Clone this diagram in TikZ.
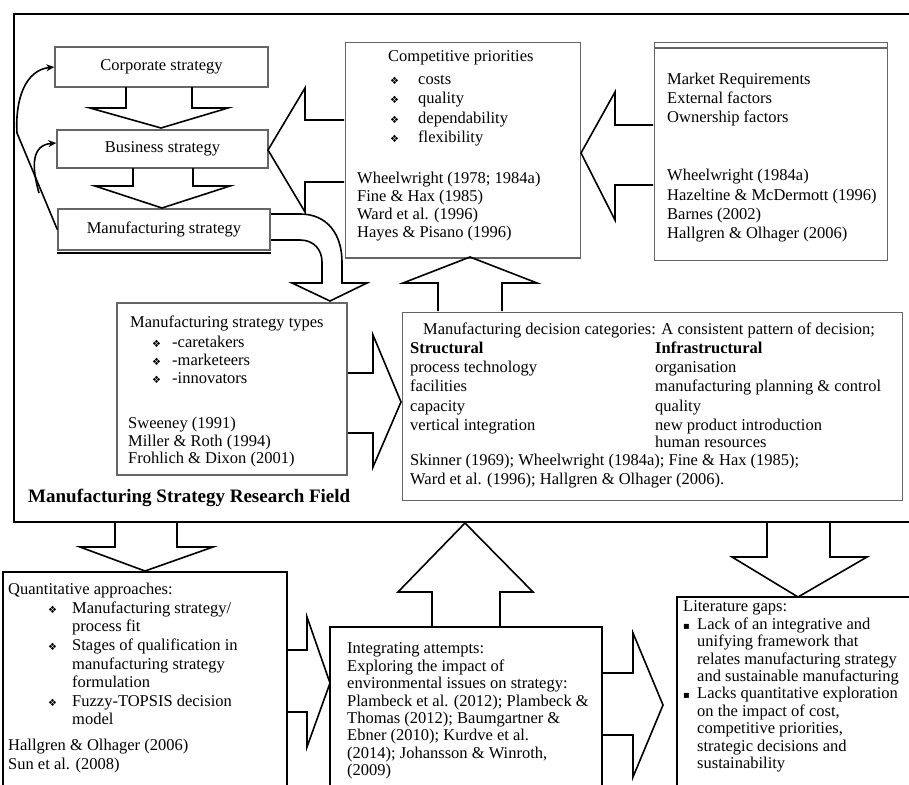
\documentclass[tikz,border=0pt]{standalone}
\usepackage{fontspec}
\setmainfont{Liberation Serif}
\newfontfamily\symf{DejaVu Sans}
\usetikzlibrary{arrows.meta,calc}
\newcommand\mybul[1][28pt]{\makebox[#1][l]{\symf\fontsize{10}{10}\selectfont ❖}}
\newcommand\sqbul[1][14pt]{\makebox[#1][l]{\symf\fontsize{10}{10}\selectfont ▪}}
\begin{document}
\begin{tikzpicture}[x=1pt,y=-1pt,
  txt/.style={inner sep=0pt, anchor=west, align=left, font=\fontsize{16.5}{18.8}\selectfont},
  gbox/.style={draw=black!60, line width=1.4pt, inner sep=0pt, font=\fontsize{16.5}{18}\selectfont},
  kbox/.style={draw=black, line width=2pt, inner sep=0pt},
  blk/.style={draw=black, line width=1.6pt, line join=miter},
  curv/.style={draw=black, line width=1.6pt, -{Stealth[length=8pt,width=7pt]}}]
\useasboundingbox (0,0) rectangle (909,784);
\fill[white] (0,0) rectangle (909,784);

% outer research field box
\node[kbox, line width=2.6pt, minimum width=900pt, minimum height=508pt] (field) at (464,268) {};
\node[txt, font=\fontsize{19}{20}\selectfont\bfseries] (fieldt) at (28,498) {Manufacturing Strategy Research Field};

% strategy hierarchy
\node[gbox, minimum width=213pt, minimum height=40pt] (corp) at (161.5,67) {Corporate strategy};
\node[gbox, minimum width=211pt, minimum height=38pt] (bus) at (162.5,149) {Business strategy};
\node[gbox, minimum width=212pt, minimum height=41pt] (manu) at (164,229.5) {Manufacturing strategy};
\draw[line width=2pt] ([yshift=-2pt]manu.south west) -- ([yshift=-2pt]manu.south east);

\draw[blk] (126,87) -- (126,108) -- (90,108) -- (161,128) -- (228,108) -- (192,108) -- (192,87);
\draw[blk] (133,168) -- (133,186) -- (95,186) -- (162,208) -- (230,186) -- (193,186) -- (193,168);

\draw[curv] (manu.west) -- (17,133) .. controls (15,100) and (25,70) .. (corp.west);
\draw[curv] (39,193) .. controls (31,165) and (32,145) .. ($(bus.west)+(0,-6)$);

% competitive priorities
\node[gbox, line width=1pt, minimum width=235pt, minimum height=214pt] (comp) at (462.5,150) {};
\draw[black!60, line width=2pt] (comp.south west) -- (comp.south east);
\node[txt] (compt) at (388,58) {Competitive priorities};
\node[txt, font=\fontsize{16.5}{19.3}\selectfont] (compl) at (390,110.75) {\mybul costs\\ \mybul quality\\ \mybul dependability\\ \mybul flexibility};
\node[txt, font=\fontsize{16.5}{18}\selectfont] (compr) at (357,206.5) {Wheelwright (1978; 1984a)\\Fine \& Hax (1985)\\Ward et al. (1996)\\Hayes \& Pisano (1996)};

% market box
\node[gbox, line width=1pt, minimum width=233pt, minimum height=217pt] (mkt) at (770.5,151.5) {};
\draw[black!60, line width=2pt] ([yshift=-6pt]mkt.north west) -- ([yshift=-6pt]mkt.north east);
\node[txt, font=\fontsize{16.5}{19}\selectfont] (mktt) at (667,99.3) {Market Requirements\\External factors\\Ownership factors};
\node[txt, font=\fontsize{16.5}{19.3}\selectfont] (mktr) at (667,206) {Wheelwright (1984a)\\Hazeltine \& McDermott (1996)\\Barnes (2002)\\Hallgren \& Olhager (2006)};

\draw[blk] (344,120) -- (305,120) -- (305,88) -- (268,150) -- (305,212) -- (305,182) -- (344,182);
\draw[blk] (653,125) -- (615,125) -- (615,92) -- (581,153) -- (615,220) -- (615,185) -- (653,185);

% bent arrow manuf strategy -> types
\draw[blk] (271,214) -- (300,214) .. controls (328,214) and (342,235) .. (342,262) -- (342,283) -- (367,283) -- (330,301) -- (292,283) -- (322,283) -- (322,262) .. controls (322,250) and (314,240) .. (300,240) -- (271,240);

% types box
\node[gbox, minimum width=230pt, minimum height=172pt] (types) at (232,389) {};
\node[txt] (typt) at (130,323) {Manufacturing strategy types};
\node[txt, font=\fontsize{16.5}{18}\selectfont] (typl) at (152,360) {\mybul[20pt]-caretakers\\ \mybul[20pt]-marketeers\\ \mybul[20pt]-innovators};
\node[txt, font=\fontsize{16.5}{17.5}\selectfont] (typr) at (128,442.3) {Sweeney (1991)\\Miller \& Roth (1994)\\Frohlich \& Dixon (2001)};

% decision categories
\node[gbox, line width=1pt, minimum width=500pt, minimum height=188pt] (dec) at (652,406) {};
\node[txt] (dect) at (423,330) {Manufacturing decision categories: A consistent pattern of decision;};
\node[txt, font=\fontsize{16.5}{19.25}\selectfont] (decl) at (410,387.8) {\textbf{Structural}\\process technology\\facilities\\capacity\\vertical integration};
\node[txt, font=\fontsize{16.5}{19.25}\selectfont] (decr) at (655,387.8) {\textbf{Infrastructural}\\organisation\\manufacturing planning \& control\\quality\\new product introduction};
\node[txt] (dech) at (655,442) {human resources};
\node[txt, font=\fontsize{16.5}{19}\selectfont] (decref) at (410,471.5) {Skinner (1969); Wheelwright (1984a); Fine \& Hax (1985);\\Ward et al. (1996); Hallgren \& Olhager (2006).};

\draw[blk] (438,311) -- (438,283) -- (403,283) -- (470,257) -- (537,283) -- (502,283) -- (502,311);
\draw[blk] (348,373) -- (373,373) -- (373,335) -- (401,402) -- (373,467) -- (373,433) -- (348,433);

% bottom row
\node[kbox, minimum width=284pt, minimum height=228pt] (qa) at (145,686) {};
\node[txt, font=\fontsize{16.5}{18.6}\selectfont] (qat) at (8,678) {Quantitative approaches:\\
\hspace*{40pt}\mybul[24pt]Manufacturing strategy/\\
\hspace*{64pt}process fit\\
\hspace*{40pt}\mybul[24pt]Stages of qualification in\\
\hspace*{64pt}manufacturing strategy\\
\hspace*{64pt}formulation\\
\hspace*{40pt}\mybul[24pt]Fuzzy-TOPSIS decision\\
\hspace*{64pt}model\\[7pt]
Hallgren \& Olhager (2006)\\
Sun et al. (2008)};

\node[kbox, minimum width=272pt, minimum height=173pt] (integ) at (466,713.5) {};
\node[txt, font=\fontsize{16.5}{17.4}\selectfont] (integt) at (347,711) {Integrating attempts:\\
Exploring the impact of\\
environmental issues on strategy:\\
Plambeck et al. (2012); Plambeck \&\\
Thomas (2012); Baumgartner \&\\
Ebner (2010); Kurdve et al.\\
(2014); Johansson \& Winroth,\\
(2009)};

\node[kbox, minimum width=238pt, minimum height=203pt] (gaps) at (796,698.5) {};
\node[txt, font=\fontsize{16.5}{17.4}\selectfont] (gapst) at (683,686.5) {Literature gaps:\\
\sqbul Lack of an integrative and\\
\hspace*{14pt}unifying framework that\\
\hspace*{14pt}relates manufacturing strategy\\
\hspace*{14pt}and sustainable manufacturing\\
\sqbul Lacks quantitative exploration\\
\hspace*{14pt}on the impact of cost,\\
\hspace*{14pt}competitive priorities,\\
\hspace*{14pt}strategic decisions and\\
\hspace*{14pt}sustainability};

\draw[blk] (115,523) -- (115,547) -- (80,547) -- (145,571) -- (213,547) -- (177,547) -- (177,523);
\draw[blk] (288,650) -- (307,650) -- (307,617) -- (330,683) -- (307,747) -- (307,712) -- (288,712);
\draw[blk] (432,626) -- (432,592) -- (398,592) -- (465,523) -- (533,592) -- (500,592) -- (500,626);
\draw[blk] (603,673) -- (633,673) -- (633,633) -- (663,705) -- (633,777) -- (633,735) -- (603,735);
\draw[blk] (767,523) -- (767,557) -- (732,557) -- (798,597) -- (867,557) -- (830,557) -- (830,523);
\end{tikzpicture}
\end{document}
